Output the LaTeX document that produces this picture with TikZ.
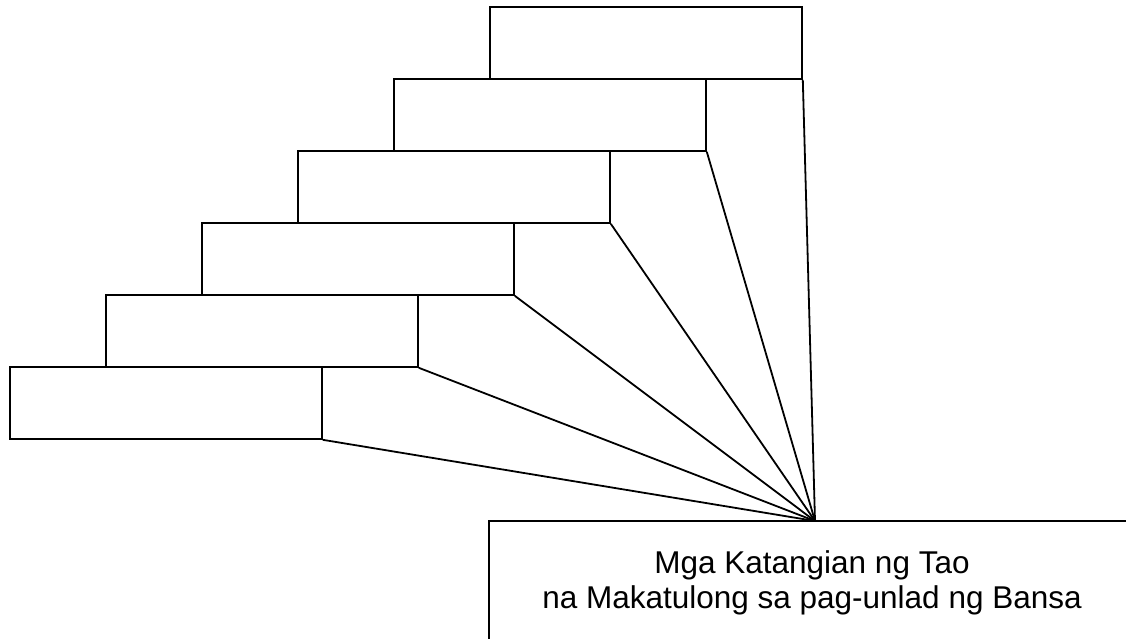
\documentclass[tikz,border=0pt]{standalone}
\usepackage{fontspec}
\setmainfont{Liberation Sans}
\begin{document}
\begin{tikzpicture}[x=1pt,y=-1pt,
  stepbox/.style={draw,line width=1.8pt,minimum width=312pt,minimum height=72pt,inner sep=0pt,anchor=north west},
  link/.style={line width=1.8pt},
  label/.style={font=\fontsize{31.5}{36}\selectfont,inner sep=0pt,anchor=base}]
\useasboundingbox (0,0) rectangle (1126,638);
\node[stepbox] (b1) at (489,6) {};
\node[stepbox] (b2) at (393,78) {};
\node[stepbox] (b3) at (297,150) {};
\node[stepbox] (b4) at (201,222) {};
\node[stepbox] (b5) at (105,294) {};
\node[stepbox] (b6) at (9,366) {};
\coordinate (p) at (815,521);
\foreach \b in {b1,b2,b3,b4,b5,b6} {\draw[link] (\b.south east) -- (p);}
\coordinate (tr) at (1127,521);
\coordinate (bl) at (489,640);
\draw[link] (tr) -- (489,521) -- (bl);
\node[label] (t1) at (812,573) {Mga Katangian ng Tao};
\node[label] (t2) at (812,608) {na Makatulong sa pag-unlad ng Bansa};
\end{tikzpicture}
\end{document}
